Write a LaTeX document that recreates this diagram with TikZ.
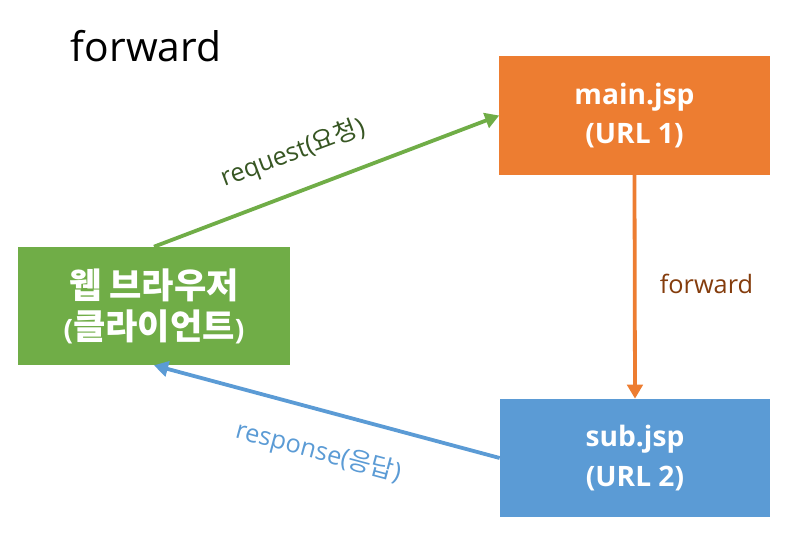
\documentclass[tikz,border=0pt]{standalone}
\usepackage{fontspec}
\setmainfont{Open Sans}
\newfontfamily\kr{Noto Sans CJK KR}
\definecolor{myorange}{RGB}{237,125,49}
\definecolor{mygreen}{RGB}{112,173,71}
\definecolor{myblue}{RGB}{91,155,213}
\definecolor{darkgreen}{RGB}{55,86,35}
\definecolor{mybrown}{RGB}{132,60,12}
\usetikzlibrary{arrows.meta, positioning}
\newcommand{\krbig}[1]{{\kr\fontsize{25}{30}\selectfont #1}}
\tikzset{
  bx/.style={minimum width=#1, minimum height=2.95cm, align=center,
             font=\fontsize{20}{28}\selectfont\bfseries, text=white, inner sep=0pt},
  bxO/.style={bx=6.75cm, fill=myorange},
  bxG/.style={bx=6.8cm,  fill=mygreen},
  bxB/.style={bx=6.75cm, fill=myblue},
  arr/.style={-{Triangle[length=10pt, width=11pt]}, line width=2.7pt},
  lbl/.style={font=\fontsize{18}{20}\selectfont, anchor=center},
}

\begin{document}
\begin{tikzpicture}[x=0.025cm, y=-0.025cm]
    \useasboundingbox (0,0) rectangle (798,545);

    \node[font=\fontsize{29}{32}\selectfont, anchor=base west] (title) at (66,62) {forward};

    \node[bxO] (main) at (634.5,115.5) {main.jsp\\(URL 1)};
    \node[bxG] (web)  at (154,306)     {\krbig{웹 브라우저}\\[1pt](\krbig{클라이언트})};
    \node[bxB] (sub)  at (635,458)     {sub.jsp\\(URL 2)};

    \draw[arr, mygreen] (web.north) -- (main.west)
        node[midway, lbl, text=darkgreen, xshift=-24pt, yshift=20pt, rotate=20.5] {request({\kr 요청})};
    \draw[arr, myorange] (main.south) -- (sub.north)
        node[midway, lbl, text=mybrown, xshift=51pt, yshift=2pt] {forward};
    \draw[arr, myblue] (sub.west) -- (web.south)
        node[midway, lbl, text=myblue, xshift=-6pt, yshift=-29pt, rotate=-15] {response({\kr 응답})};
\end{tikzpicture}
\end{document}
